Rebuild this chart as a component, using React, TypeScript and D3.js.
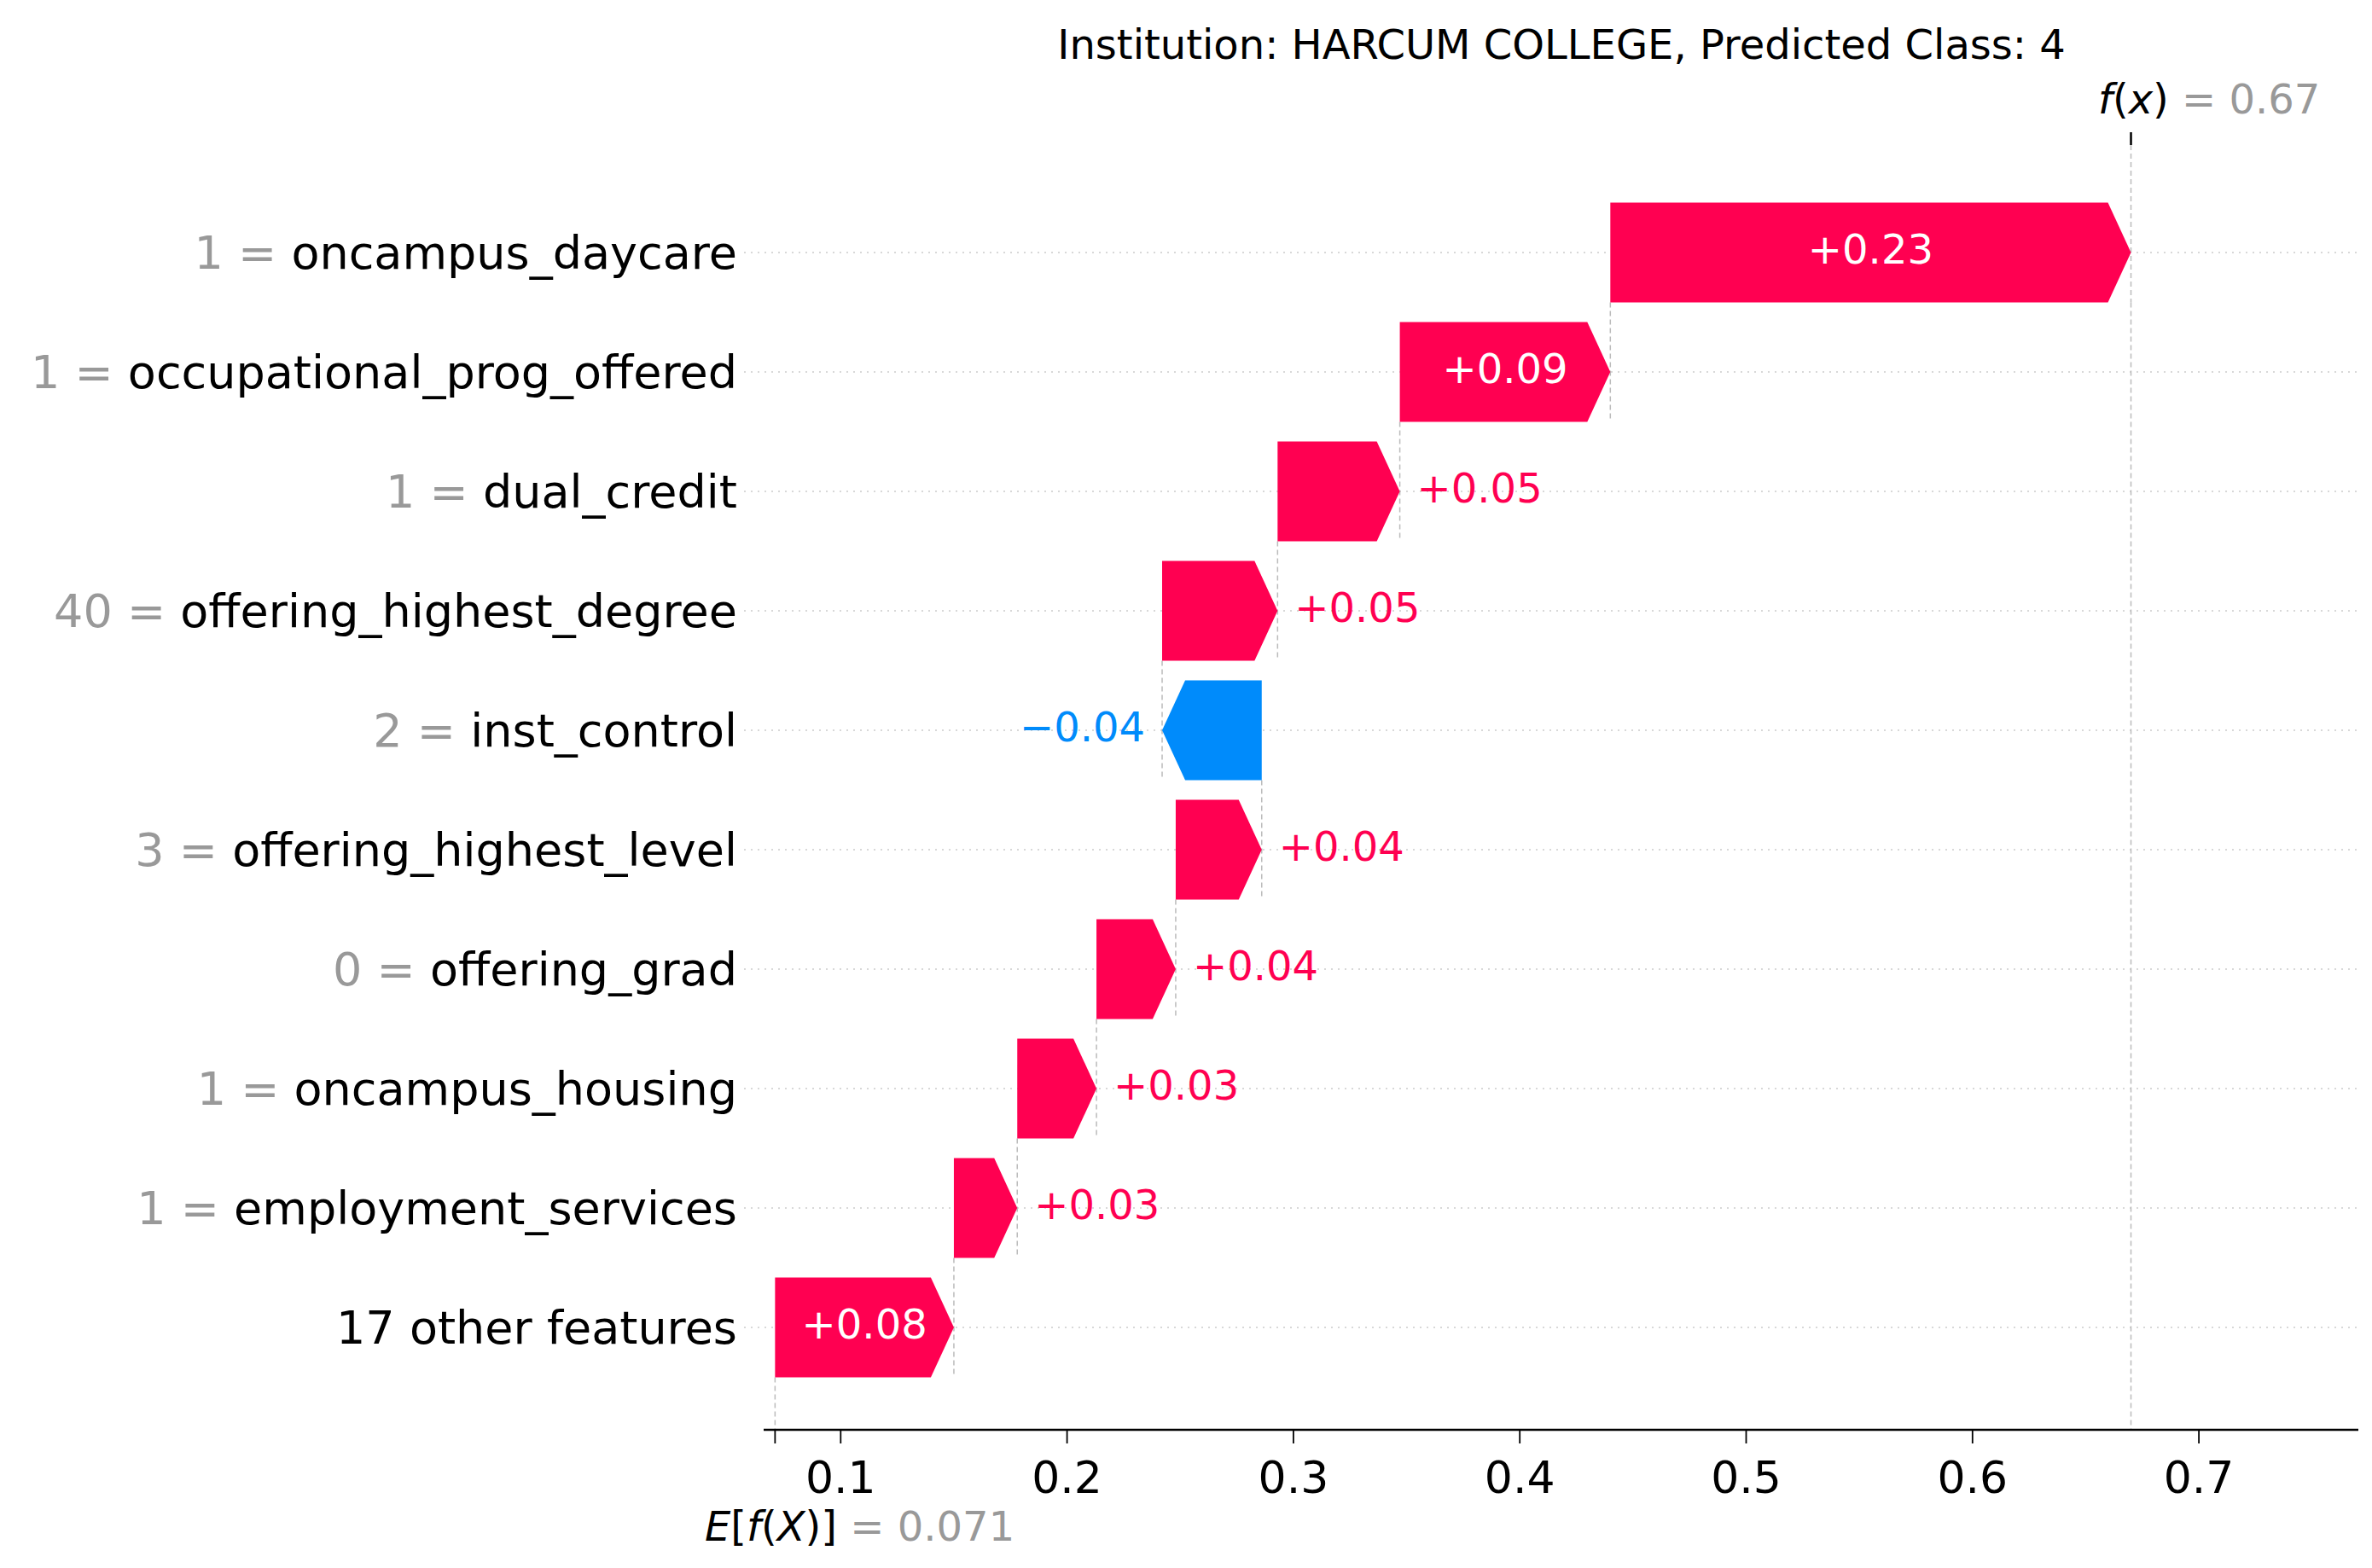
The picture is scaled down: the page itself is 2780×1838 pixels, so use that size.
import React from 'react';
import * as d3 from 'd3';

const featureNames = ['oncampus_daycare', 'occupational_prog_offered', 'dual_credit', 'offering_highest_degree', 'inst_control', 'offering_highest_level', 'offering_grad', 'oncampus_housing', 'employment_services', '17 other features'];
const featureValues = ['1', '1', '1', '40', '2', '3', '0', '1', '1', ''];
const shapValues = [0.23, 0.093, 0.054, 0.051, -0.044, 0.038, 0.035, 0.035, 0.028, 0.079];
const shapLabels = ['+0.23', '+0.09', '+0.05', '+0.05', '\u22120.04', '+0.04', '+0.04', '+0.03', '+0.03', '+0.08'];
const baseValue = 0.071;
const fxValue = 0.67;
const xTicks = [0.1, 0.2, 0.3, 0.4, 0.5, 0.6, 0.7];

const W = 2780;
const H = 1838;
const POS = '#ff0051';
const NEG = '#008bfb';
const GREY = '#999999';
const FONT = 'DejaVu Sans';

const App: React.FC = () => {
    const x = d3.scaleLinear().domain([0, 0.1]).range([720, 985.3]);
    const y = d3.scaleLinear().domain([0, 9]).range([296, 1556]);
    const barH = 117;
    const head = 27;
    const axisY = 1676;

    // cumulative positions, bottom row first
    const n = shapValues.length;
    const starts: number[] = new Array(n);
    let acc = baseValue;
    for (let i = n - 1; i >= 0; i--) {
        starts[i] = acc;
        acc += shapValues[i];
    }

    return (
        <svg width={W} height={H} style={{ position: 'absolute', left: 0, top: 0 }} fontFamily={FONT}>
            <rect width={W} height={H} fill="white" />
            <text x={1830} y={52} dy="0.35em" fontSize={48} textAnchor="middle">Institution: HARCUM COLLEGE, Predicted Class: 4</text>

            {/* grid lines */}
            {featureNames.map((_, i) => (
                <line key={'g' + i} x1={872} x2={2762} y1={y(i)} y2={y(i)} stroke="#cccccc" strokeWidth={1.5} strokeDasharray="2,6" />
            ))}

            {/* connector dashed lines */}
            {featureNames.map((_, i) => {
                const end = starts[i] + shapValues[i];
                const yTop = i === 0 ? 160 : y(i - 1) + barH / 2;
                return (
                    <line key={'c' + i} x1={x(end)} x2={x(end)} y1={yTop} y2={y(i) + barH / 2}
                        stroke="#bbbbbb" strokeWidth={1.5} strokeDasharray="6,4" />
                );
            })}
            <line x1={x(fxValue)} x2={x(fxValue)} y1={y(0) + barH / 2} y2={axisY} stroke="#bbbbbb" strokeWidth={1.5} strokeDasharray="6,4" />
            <line x1={x(baseValue)} x2={x(baseValue)} y1={y(n - 1) + barH / 2} y2={axisY} stroke="#bbbbbb" strokeWidth={1.5} strokeDasharray="6,4" />
            <line x1={x(fxValue)} x2={x(fxValue)} y1={155} y2={170} stroke="black" strokeWidth={2.5} />

            {/* bars */}
            {shapValues.map((v, i) => {
                const s = x(starts[i]);
                const e = x(starts[i] + v);
                const cy = y(i);
                const dir = v >= 0 ? 1 : -1;
                const hl = Math.min(head, Math.abs(e - s));
                const pts = [
                    [s, cy - barH / 2],
                    [e - dir * hl, cy - barH / 2],
                    [e, cy],
                    [e - dir * hl, cy + barH / 2],
                    [s, cy + barH / 2],
                ];
                const color = v >= 0 ? POS : NEG;
                const width = Math.abs(e - s);
                const inside = width > 180;
                let tx: number;
                let anchor: 'start' | 'middle' | 'end';
                if (inside) { tx = (s + e) / 2; anchor = 'middle'; }
                else if (v >= 0) { tx = e + 20; anchor = 'start'; }
                else { tx = e - 20; anchor = 'end'; }
                return (
                    <g key={'b' + i}>
                        <polygon points={pts.map(p => p.join(',')).join(' ')} fill={color} />
                        <text x={tx} y={cy - 4} dy="0.35em" fontSize={48} textAnchor={anchor} fill={inside ? 'white' : color}>{shapLabels[i]}</text>
                    </g>
                );
            })}

            {/* y labels */}
            {featureNames.map((name, i) => (
                <text key={'l' + i} x={864} y={y(i)} dy="0.35em" fontSize={54} textAnchor="end">
                    {featureValues[i] !== '' && <tspan fill={GREY}>{featureValues[i]} = </tspan>}
                    <tspan fill="black">{name}</tspan>
                </text>
            ))}

            {/* x axis */}
            <line x1={895} x2={2764} y1={axisY} y2={axisY} stroke="black" strokeWidth={2.5} />
            {[baseValue, ...xTicks].map((t, i) => (
                <line key={'t' + i} x1={x(t)} x2={x(t)} y1={axisY} y2={axisY + 16} stroke="black" strokeWidth={1.8} />
            ))}
            {xTicks.map((t, i) => (
                <text key={'tl' + i} x={x(t)} y={1732} dy="0.35em" fontSize={52} textAnchor="middle">{d3.format('.1f')(t)}</text>
            ))}

            <text x={826} y={1789} dy="0.35em" fontSize={48}>
                <tspan fontStyle="italic">E</tspan><tspan>[</tspan><tspan fontStyle="italic">f</tspan><tspan>(</tspan><tspan fontStyle="italic">X</tspan><tspan>)]</tspan>
                <tspan fill={GREY}> = {baseValue}</tspan>
            </text>
            <text x={2459} y={116} dy="0.35em" fontSize={48}>
                <tspan fontStyle="italic">f</tspan><tspan>(</tspan><tspan fontStyle="italic">x</tspan><tspan>)</tspan>
                <tspan fill={GREY}> = {fxValue}</tspan>
            </text>
        </svg>
    );
};

export default App;
